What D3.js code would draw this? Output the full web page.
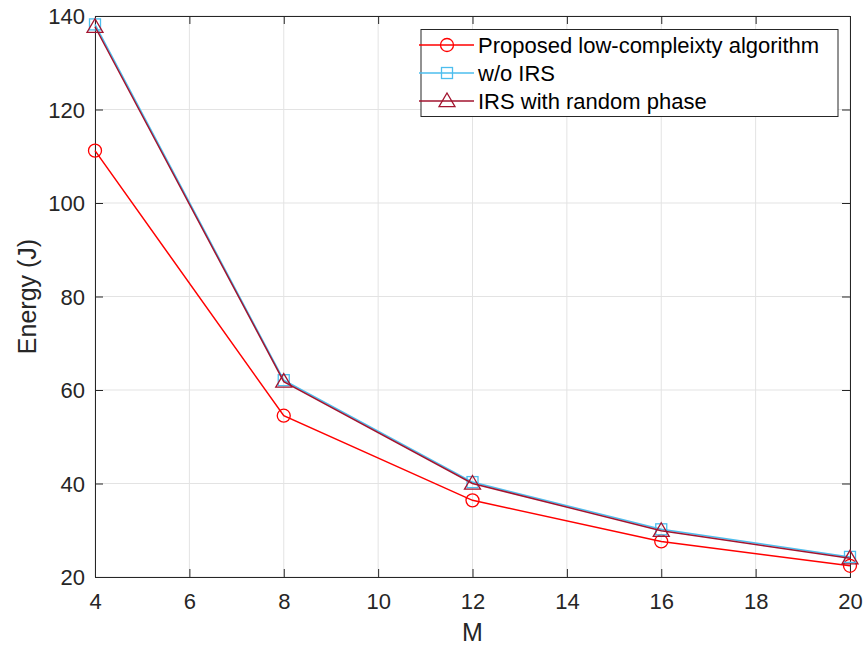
<!DOCTYPE html>
<html>
<head>
<meta charset="utf-8">
<script src="https://cdn.jsdelivr.net/npm/d3@7"></script>
<style>
  body { margin: 0; background: #fff; }
  svg { font-family: "Liberation Sans", Arial, sans-serif; }
</style>
</head>
<body>
<div id="chart"></div>
<script>
// data
var M = [4, 8, 12, 16, 20];
var proposed = [111.2, 54.5, 36.4, 27.6, 22.4];
var noIRS = [138.2, 62.1, 40.3, 30.2, 24.3];
var randomPhase = [137.7, 61.8, 40.0, 29.9, 24.0];
var xTicks = [4, 6, 8, 10, 12, 14, 16, 18, 20];
var yTicks = [20, 40, 60, 80, 100, 120, 140];
var seriesNames = ['Proposed low-compleixty algorithm', 'w/o IRS', 'IRS with random phase'];

var W = 865, H = 647;
var margin = {left: 95, top: 16, right: 15, bottom: 70};
var axisCol = '#262626';

var svg = d3.select('#chart').append('svg')
    .attr('width', W)
    .attr('height', H);

var x = d3.scaleLinear().domain([4, 20]).range([margin.left, W - margin.right]);
var y = d3.scaleLinear().domain([20, 140]).range([H - margin.bottom, margin.top]);

var x0 = x.range()[0], x1 = x.range()[1];
var y0 = y.range()[0], y1 = y.range()[1];

// grid
svg.append('g').selectAll('line.vx')
    .data(xTicks).enter().append('line')
    .attr('x1', d => x(d)).attr('x2', d => x(d))
    .attr('y1', y1).attr('y2', y0)
    .attr('stroke', '#e3e3e3').attr('stroke-width', 1);
svg.append('g').selectAll('line.hy')
    .data(yTicks).enter().append('line')
    .attr('x1', x0).attr('x2', x1)
    .attr('y1', d => y(d)).attr('y2', d => y(d))
    .attr('stroke', '#e3e3e3').attr('stroke-width', 1);

// axes (ticks inward, box all round)
var tl = 8;
var xb = svg.append('g').attr('transform', 'translate(0,' + y0 + ')')
    .call(d3.axisBottom(x).tickValues(xTicks).tickSize(-tl).tickPadding(16));
var xt = svg.append('g').attr('transform', 'translate(0,' + y1 + ')')
    .call(d3.axisTop(x).tickValues(xTicks).tickSize(-tl).tickFormat(''));
var yl = svg.append('g').attr('transform', 'translate(' + x0 + ',0)')
    .call(d3.axisLeft(y).tickValues(yTicks).tickSize(-tl).tickPadding(10));
var yr = svg.append('g').attr('transform', 'translate(' + x1 + ',0)')
    .call(d3.axisRight(y).tickValues(yTicks).tickSize(-tl).tickFormat(''));

[xb, xt, yl, yr].forEach(function(g) {
  g.selectAll('path').attr('stroke', axisCol).attr('stroke-width', 1);
  g.selectAll('line').attr('stroke', axisCol).attr('stroke-width', 1);
  g.selectAll('text').attr('fill', axisCol).style('font-size', '22px')
    .style('font-family', '"Liberation Sans", Arial, sans-serif');
});
xb.selectAll('text').attr('dy', '0.71em');
yl.selectAll('text').attr('dy', '0.36em');

// axis labels
svg.append('text')
    .attr('x', (x0 + x1) / 2).attr('y', 641)
    .attr('text-anchor', 'middle')
    .attr('fill', axisCol).style('font-size', '25px')
    .text('M');
svg.append('text')
    .attr('transform', 'translate(36,' + ((y0 + y1) / 2) + ') rotate(-90)')
    .attr('text-anchor', 'middle')
    .attr('fill', axisCol).style('font-size', '25px')
    .text('Energy (J)');

var line = d3.line().x(d => x(d[0])).y(d => y(d[1]));

var series = [
  {name: seriesNames[0], vals: proposed, color: '#ff0000', marker: 'circle'},
  {name: seriesNames[1], vals: noIRS, color: '#4dbeee', marker: 'square'},
  {name: seriesNames[2], vals: randomPhase, color: '#a2142f', marker: 'triangle'}
];

function drawMarker(g, type, cx, cy, color) {
  if (type === 'circle') {
    g.append('circle').attr('cx', cx).attr('cy', cy).attr('r', 6.5)
      .attr('fill', 'none').attr('stroke', color).attr('stroke-width', 1.3);
  } else if (type === 'square') {
    g.append('rect').attr('x', cx - 5.5).attr('y', cy - 5.5)
      .attr('width', 11).attr('height', 11)
      .attr('fill', 'none').attr('stroke', color).attr('stroke-width', 1.3);
  } else {
    var s = 8;
    g.append('path')
      .attr('d', 'M' + cx + ',' + (cy - s) + 'L' + (cx + s) + ',' + (cy + s * 0.7) +
                 'L' + (cx - s) + ',' + (cy + s * 0.7) + 'Z')
      .attr('fill', 'none').attr('stroke', color).attr('stroke-width', 1.3);
  }
}

var plot = svg.append('g');
series.forEach(function(s) {
  var pts = M.map((m, i) => [m, s.vals[i]]);
  plot.append('path').datum(pts)
    .attr('d', line).attr('fill', 'none')
    .attr('stroke', s.color).attr('stroke-width', 1.5);
  pts.forEach(function(p) {
    drawMarker(plot, s.marker, x(p[0]), y(p[1]), s.color);
  });
});

// legend
var lg = svg.append('g');
lg.append('rect')
    .attr('x', 421).attr('y', 29.5).attr('width', 417).attr('height', 87)
    .attr('fill', '#fff').attr('stroke', axisCol).attr('stroke-width', 1);
series.forEach(function(s, i) {
  var ly = 45 + i * 28;
  lg.append('line').attr('x1', 419).attr('x2', 474).attr('y1', ly).attr('y2', ly)
    .attr('stroke', s.color).attr('stroke-width', 1.5);
  drawMarker(lg, s.marker, 447, ly, s.color);
  lg.append('text').attr('x', 478).attr('y', ly).attr('dy', '0.36em')
    .attr('fill', '#000').style('font-size', '22px')
    .text(s.name);
});
</script>
</body>
</html>
